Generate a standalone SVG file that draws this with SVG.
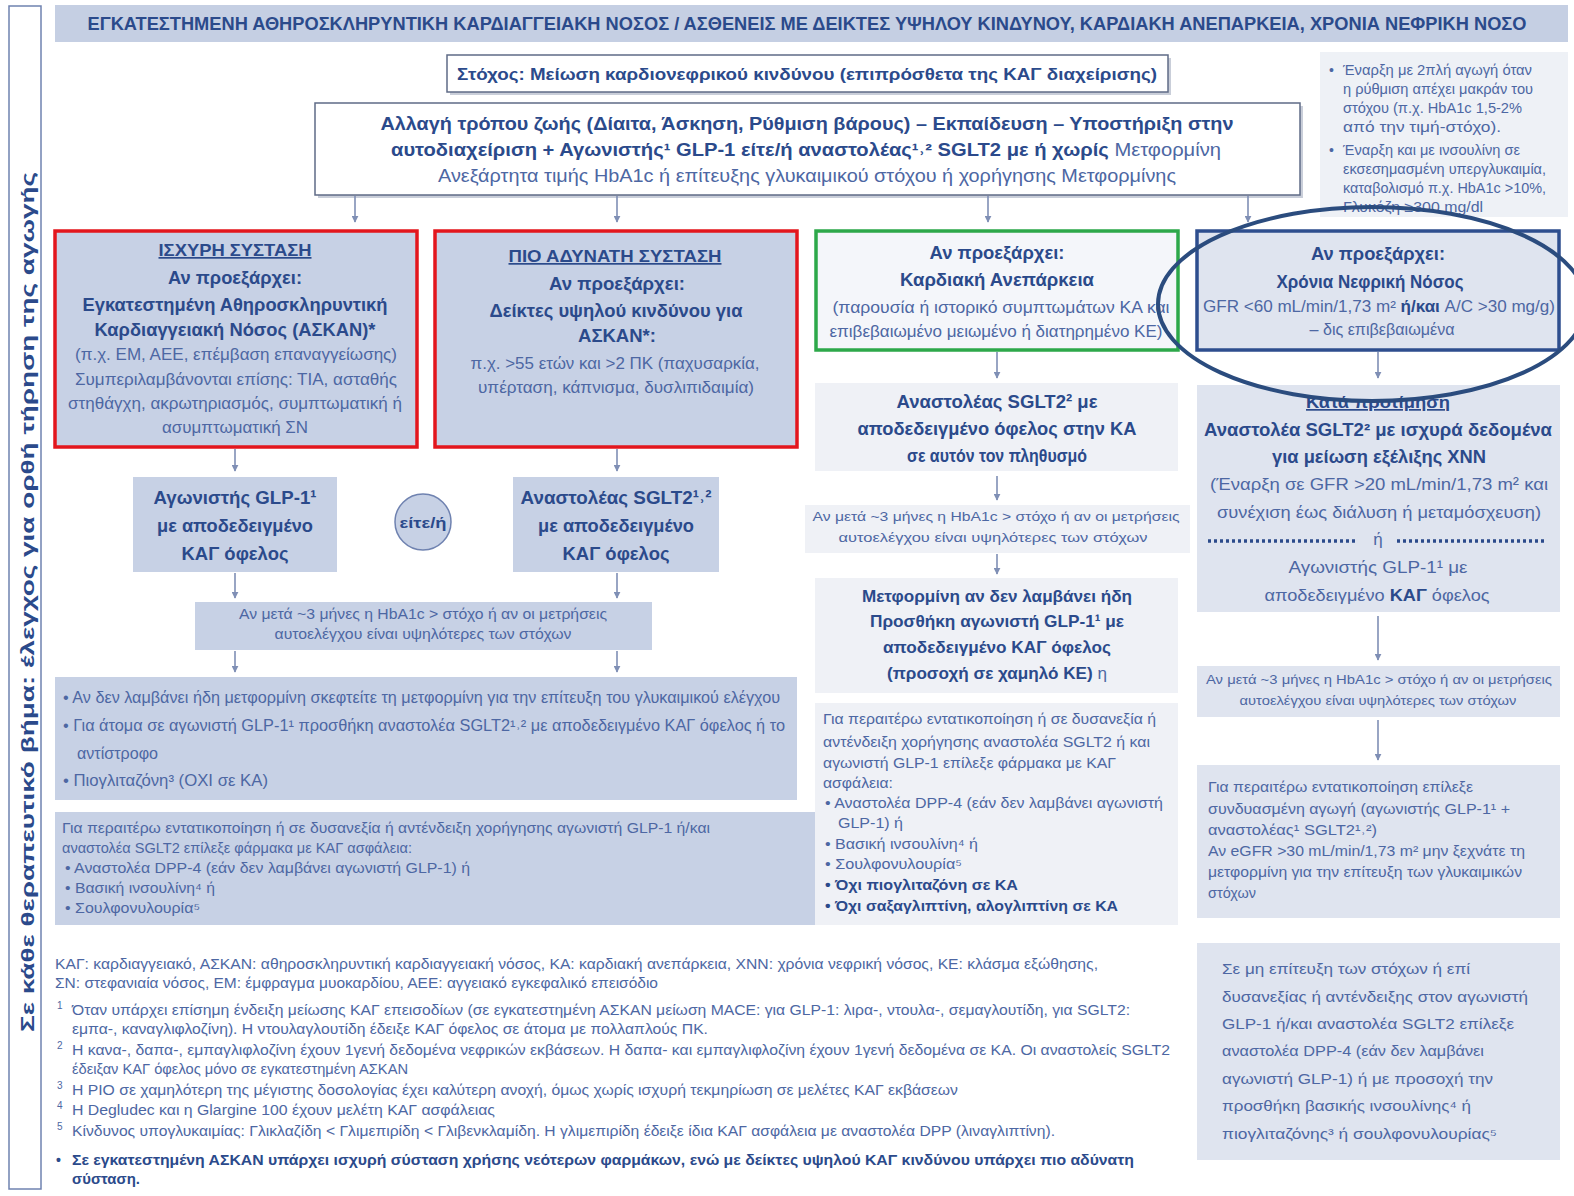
<svg xmlns="http://www.w3.org/2000/svg" width="1574" height="1196" viewBox="0 0 1574 1196">
<defs>
<style>
text{font-family:"Liberation Sans","DejaVu Sans",sans-serif;}
.b{font-weight:bold;fill:#2b4a8b;}
.n{fill:#4d67a3;}
.c{text-anchor:middle;}
.u{text-decoration:underline;}
.box{fill:#c7d1e5;}
.lt{fill:#eff1f6;}
.rb{fill:#dfe4ef;}
.red{fill:#c7d1e5;stroke:#e3161d;stroke-width:3.5;}
.conn line{stroke:#7f8fb5;stroke-width:1.6;marker-end:url(#ah);}
</style>
<marker id="ah" viewBox="0 0 10 10" refX="9" refY="5" markerWidth="7" markerHeight="7" orient="auto" markerUnits="userSpaceOnUse">
<path d="M0,0 L10,5 L0,10 z" fill="#7f8fb5"/>
</marker>
</defs>
<rect width="1574" height="1196" fill="#ffffff"/>

<g id="sidebar">
<rect x="9" y="6" width="32" height="1183" fill="#ffffff" stroke="#6f82b0" stroke-width="1.5"/>
<text class="b" font-size="19" transform="translate(34,1032) rotate(-90)" textLength="860" lengthAdjust="spacingAndGlyphs">Σε κάθε θεραπευτικό βήμα: έλεγχος για ορθή τήρηση της αγωγής</text>
</g>

<g id="title">
<rect x="55" y="5" width="1513" height="37" fill="#c5cfe3"/>
<text class="b c" x="807" y="30" font-size="18" textLength="1439" lengthAdjust="spacingAndGlyphs">ΕΓΚΑΤΕΣΤΗΜΕΝΗ ΑΘΗΡΟΣΚΛΗΡΥΝΤΙΚΗ ΚΑΡΔΙΑΓΓΕΙΑΚΗ ΝΟΣΟΣ / ΑΣΘΕΝΕΙΣ ΜΕ ΔΕΙΚΤΕΣ ΥΨΗΛΟΥ ΚΙΝΔΥΝΟΥ, ΚΑΡΔΙΑΚΗ ΑΝΕΠΑΡΚΕΙΑ, ΧΡΟΝΙΑ ΝΕΦΡΙΚΗ ΝΟΣΟ</text>
</g>

<g id="goal">
<rect x="450" y="58" width="721" height="37" fill="#c9ced9"/>
<rect x="447" y="55" width="721" height="37" fill="#ffffff" stroke="#5f6b86" stroke-width="1.5"/>
<text class="b c" x="807" y="80" font-size="17" textLength="700" lengthAdjust="spacingAndGlyphs">Στόχος: Μείωση καρδιονεφρικού κινδύνου (επιπρόσθετα της ΚΑΓ διαχείρισης)</text>
</g>

<g id="main">
<rect x="318" y="106" width="985" height="92" fill="#c9ced9"/>
<rect x="315" y="103" width="985" height="92" fill="#ffffff" stroke="#5f6b86" stroke-width="1.5"/>
<text class="b c" x="807" y="130" font-size="18" textLength="853" lengthAdjust="spacingAndGlyphs">Αλλαγή τρόπου ζωής (Δίαιτα, Άσκηση, Ρύθμιση βάρους) – Εκπαίδευση – Υποστήριξη στην</text>
<text class="b c" x="806" y="156" font-size="18" textLength="830" lengthAdjust="spacingAndGlyphs">αυτοδιαχείριση  +  Αγωνιστής¹ GLP-1 είτε/ή αναστολέας¹˒² SGLT2 με ή χωρίς <tspan font-weight="normal" fill="#4d67a3">Μετφορμίνη</tspan></text>
<text class="n c" x="807" y="182" font-size="18" textLength="738" lengthAdjust="spacingAndGlyphs">Ανεξάρτητα τιμής HbA1c ή επίτευξης γλυκαιμικού στόχου ή χορήγησης Μετφορμίνης</text>
</g>

<g id="note">
<rect x="1320" y="52" width="248" height="165" fill="#eef1f6"/>
<g class="n" font-size="14">
<text x="1329" y="75">•</text>
<text x="1343" y="75" textLength="189" lengthAdjust="spacingAndGlyphs">Έναρξη με 2πλή αγωγή όταν</text>
<text x="1343" y="94" textLength="190" lengthAdjust="spacingAndGlyphs">η ρύθμιση απέχει μακράν του</text>
<text x="1343" y="113" textLength="179" lengthAdjust="spacingAndGlyphs">στόχου (π.χ. HbA1c 1,5-2%</text>
<text x="1343" y="132" textLength="158" lengthAdjust="spacingAndGlyphs">από την τιμή-στόχο).</text>
<text x="1329" y="155">•</text>
<text x="1343" y="155" textLength="177" lengthAdjust="spacingAndGlyphs">Έναρξη και με ινσουλίνη σε</text>
<text x="1343" y="174" textLength="203" lengthAdjust="spacingAndGlyphs">εκσεσημασμένη υπεργλυκαιμία,</text>
<text x="1343" y="193" textLength="203" lengthAdjust="spacingAndGlyphs">καταβολισμό π.χ. HbA1c &gt;10%,</text>
<text x="1343" y="212" textLength="140" lengthAdjust="spacingAndGlyphs">Γλυκόζη ≥300 mg/dl</text>
</g>
</g>

<g id="boxA">
<rect class="red" x="55" y="231" width="362" height="216"/>
<text class="b c u" x="235" y="256" font-size="17" textLength="153" lengthAdjust="spacingAndGlyphs">ΙΣΧΥΡΗ ΣΥΣΤΑΣΗ</text>
<text class="b c" x="235" y="284" font-size="18" textLength="134" lengthAdjust="spacingAndGlyphs">Αν προεξάρχει:</text>
<text class="b c" x="235" y="311" font-size="18" textLength="305" lengthAdjust="spacingAndGlyphs">Εγκατεστημένη Αθηροσκληρυντική</text>
<text class="b c" x="235" y="336" font-size="18" textLength="281" lengthAdjust="spacingAndGlyphs">Καρδιαγγειακή Νόσος (ΑΣΚΑΝ)*</text>
<text class="n c" x="236" y="360" font-size="16" textLength="322" lengthAdjust="spacingAndGlyphs">(π.χ. ΕΜ, ΑΕΕ, επέμβαση επαναγγείωσης)</text>
<text class="n c" x="236" y="385" font-size="16" textLength="322" lengthAdjust="spacingAndGlyphs">Συμπεριλαμβάνονται επίσης: ΤΙΑ, ασταθής</text>
<text class="n c" x="235" y="409" font-size="16" textLength="334" lengthAdjust="spacingAndGlyphs">στηθάγχη, ακρωτηριασμός, συμπτωματική ή</text>
<text class="n c" x="235" y="433" font-size="16" textLength="146" lengthAdjust="spacingAndGlyphs">ασυμπτωματική ΣΝ</text>
</g>

<g id="boxB">
<rect class="red" x="435" y="231" width="362" height="216"/>
<text class="b c u" x="615" y="262" font-size="17" textLength="213" lengthAdjust="spacingAndGlyphs">ΠΙΟ ΑΔΥΝΑΤΗ ΣΥΣΤΑΣΗ</text>
<text class="b c" x="617" y="290" font-size="18" textLength="136" lengthAdjust="spacingAndGlyphs">Αν προεξάρχει:</text>
<text class="b c" x="616" y="317" font-size="18" textLength="253" lengthAdjust="spacingAndGlyphs">Δείκτες υψηλού κινδύνου για</text>
<text class="b c" x="617" y="342" font-size="18" textLength="78" lengthAdjust="spacingAndGlyphs">ΑΣΚΑΝ*:</text>
<text class="n c" x="615" y="369" font-size="16" textLength="289" lengthAdjust="spacingAndGlyphs">π.χ. &gt;55 ετών και &gt;2 ΠΚ (παχυσαρκία,</text>
<text class="n c" x="616" y="393" font-size="16" textLength="276" lengthAdjust="spacingAndGlyphs">υπέρταση, κάπνισμα, δυσλιπιδαιμία)</text>
</g>

<g id="boxC">
<rect x="816" y="231" width="362" height="119" fill="#f4f6fa" stroke="#2da84a" stroke-width="3.5"/>
<text class="b c" x="997" y="259" font-size="18" textLength="135" lengthAdjust="spacingAndGlyphs">Αν προεξάρχει:</text>
<text class="b c" x="997" y="286" font-size="18" textLength="194" lengthAdjust="spacingAndGlyphs">Καρδιακή Ανεπάρκεια</text>
<text class="n c" x="1001" y="313" font-size="16" textLength="337" lengthAdjust="spacingAndGlyphs">(παρουσία ή ιστορικό συμπτωμάτων ΚΑ και</text>
<text class="n c" x="996" y="337" font-size="16" textLength="333" lengthAdjust="spacingAndGlyphs">επιβεβαιωμένο μειωμένο ή διατηρημένο ΚΕ)</text>
</g>

<g id="boxD">
<rect x="1197" y="231" width="362" height="119" fill="#dfe4ef" stroke="#2e4e8e" stroke-width="3.5"/>
<text class="b c" x="1378" y="260" font-size="18" textLength="134" lengthAdjust="spacingAndGlyphs">Αν προεξάρχει:</text>
<text class="b c" x="1370" y="288" font-size="18" textLength="187" lengthAdjust="spacingAndGlyphs">Χρόνια Νεφρική Νόσος</text>
<text class="n c" x="1379" y="312" font-size="16" textLength="352" lengthAdjust="spacingAndGlyphs">GFR &lt;60 mL/min/1,73 m² <tspan font-weight="bold" fill="#2b4a8b">ή/και</tspan> A/C &gt;30 mg/g)</text>
<text class="n c" x="1382" y="335" font-size="16" textLength="145" lengthAdjust="spacingAndGlyphs">– δις επιβεβαιωμένα</text>
</g>

<g id="boxE">
<rect class="box" x="133" y="477" width="204" height="95"/>
<text class="b c" x="235" y="504" font-size="19" textLength="163" lengthAdjust="spacingAndGlyphs">Αγωνιστής GLP-1¹</text>
<text class="b c" x="235" y="532" font-size="19" textLength="156" lengthAdjust="spacingAndGlyphs">με αποδεδειγμένο</text>
<text class="b c" x="235" y="560" font-size="19" textLength="107" lengthAdjust="spacingAndGlyphs">ΚΑΓ όφελος</text>
</g>

<g id="either">
<circle cx="423" cy="522" r="28" fill="#c7d1e5" stroke="#6f82b0" stroke-width="1.5"/>
<text class="b c" x="423" y="528" font-size="15" textLength="47" lengthAdjust="spacingAndGlyphs">είτε/ή</text>
</g>

<g id="boxF">
<rect class="box" x="513" y="477" width="206" height="95"/>
<text class="b c" x="616" y="504" font-size="19" textLength="191" lengthAdjust="spacingAndGlyphs">Αναστολέας SGLT2¹˒²</text>
<text class="b c" x="616" y="532" font-size="19" textLength="156" lengthAdjust="spacingAndGlyphs">με αποδεδειγμένο</text>
<text class="b c" x="616" y="560" font-size="19" textLength="107" lengthAdjust="spacingAndGlyphs">ΚΑΓ όφελος</text>
</g>

<g id="boxG">
<rect class="box" x="195" y="602" width="457" height="48"/>
<text class="n c" x="423" y="619" font-size="14" textLength="368" lengthAdjust="spacingAndGlyphs">Αν μετά ~3 μήνες η HbA1c &gt; στόχο ή αν οι μετρήσεις</text>
<text class="n c" x="423" y="639" font-size="14" textLength="297" lengthAdjust="spacingAndGlyphs">αυτοελέγχου είναι υψηλότερες των στόχων</text>
</g>

<g id="boxH">
<rect class="box" x="55" y="677" width="742" height="123"/>
<text class="n" x="63" y="703" font-size="16" textLength="717" lengthAdjust="spacingAndGlyphs">• Αν δεν λαμβάνει ήδη μετφορμίνη σκεφτείτε τη μετφορμίνη για την επίτευξη του γλυκαιμικού ελέγχου</text>
<text class="n" x="63" y="731" font-size="16" textLength="722" lengthAdjust="spacingAndGlyphs">• Για άτομα σε αγωνιστή GLP-1¹ προσθήκη αναστολέα SGLT2¹˒² με αποδεδειγμένο ΚΑΓ όφελος ή το</text>
<text class="n" x="77" y="759" font-size="16" textLength="81" lengthAdjust="spacingAndGlyphs">αντίστροφο</text>
<text class="n" x="63" y="786" font-size="16" textLength="205" lengthAdjust="spacingAndGlyphs">• Πιογλιταζόνη³ (ΟΧΙ σε ΚΑ)</text>
</g>

<g id="boxI">
<rect class="box" x="55" y="812" width="765" height="113"/>
<text class="n" x="62" y="833" font-size="14" textLength="648" lengthAdjust="spacingAndGlyphs">Για περαιτέρω εντατικοποίηση ή σε δυσανεξία ή αντένδειξη χορήγησης αγωνιστή GLP-1 ή/και</text>
<text class="n" x="62" y="853" font-size="14" textLength="350" lengthAdjust="spacingAndGlyphs">αναστολέα SGLT2 επίλεξε φάρμακα με ΚΑΓ ασφάλεια:</text>
<text class="n" x="65" y="873" font-size="14" textLength="405" lengthAdjust="spacingAndGlyphs">• Αναστολέα DPP-4 (εάν δεν λαμβάνει αγωνιστή GLP-1) ή</text>
<text class="n" x="65" y="893" font-size="14" textLength="150" lengthAdjust="spacingAndGlyphs">• Βασική ινσουλίνη⁴ ή</text>
<text class="n" x="65" y="913" font-size="14" textLength="135" lengthAdjust="spacingAndGlyphs">• Σουλφονυλουρία⁵</text>
</g>

<g id="boxJ">
<rect class="lt" x="815" y="383" width="363" height="88"/>
<text class="b c" x="997" y="408" font-size="19" textLength="201" lengthAdjust="spacingAndGlyphs">Αναστολέας SGLT2² με</text>
<text class="b c" x="997" y="435" font-size="19" textLength="279" lengthAdjust="spacingAndGlyphs">αποδεδειγμένο όφελος στην ΚΑ</text>
<text class="b c" x="997" y="462" font-size="19" textLength="180" lengthAdjust="spacingAndGlyphs">σε αυτόν τον πληθυσμό</text>
</g>

<g id="boxK">
<rect class="lt" x="805" y="505" width="385" height="48"/>
<text class="n c" x="996" y="521" font-size="13.5" textLength="367" lengthAdjust="spacingAndGlyphs">Αν μετά ~3 μήνες η HbA1c &gt; στόχο ή αν οι μετρήσεις</text>
<text class="n c" x="993" y="542" font-size="13.5" textLength="309" lengthAdjust="spacingAndGlyphs">αυτοελέγχου είναι υψηλότερες των στόχων</text>
</g>

<g id="boxL">
<rect class="lt" x="815" y="578" width="363" height="115"/>
<text class="b c" x="997" y="602" font-size="17" textLength="270" lengthAdjust="spacingAndGlyphs">Μετφορμίνη αν δεν λαμβάνει ήδη</text>
<text class="b c" x="997" y="627" font-size="17" textLength="254" lengthAdjust="spacingAndGlyphs">Προσθήκη αγωνιστή GLP-1¹ με</text>
<text class="b c" x="997" y="653" font-size="17" textLength="228" lengthAdjust="spacingAndGlyphs">αποδεδειγμένο ΚΑΓ όφελος</text>
<text class="b c" x="997" y="679" font-size="17" textLength="220" lengthAdjust="spacingAndGlyphs">(προσοχή σε χαμηλό ΚΕ) <tspan font-weight="normal" fill="#4d67a3">η</tspan></text>
</g>

<g id="boxM">
<rect class="lt" x="815" y="703" width="363" height="222"/>
<text class="n" x="823" y="724" font-size="14" textLength="333" lengthAdjust="spacingAndGlyphs">Για περαιτέρω εντατικοποίηση ή σε δυσανεξία ή</text>
<text class="n" x="823" y="747" font-size="14" textLength="327" lengthAdjust="spacingAndGlyphs">αντένδειξη χορήγησης αναστολέα SGLT2 ή και</text>
<text class="n" x="823" y="768" font-size="14" textLength="293" lengthAdjust="spacingAndGlyphs">αγωνιστή GLP-1 επίλεξε φάρμακα με ΚΑΓ</text>
<text class="n" x="823" y="788" font-size="14" textLength="70" lengthAdjust="spacingAndGlyphs">ασφάλεια:</text>
<text class="n" x="825" y="808" font-size="14" textLength="338" lengthAdjust="spacingAndGlyphs">• Αναστολέα DPP-4 (εάν δεν λαμβάνει αγωνιστή</text>
<text class="n" x="838" y="828" font-size="14" textLength="65" lengthAdjust="spacingAndGlyphs">GLP-1) ή</text>
<text class="n" x="825" y="849" font-size="14" textLength="153" lengthAdjust="spacingAndGlyphs">• Βασική ινσουλίνη⁴ ή</text>
<text class="n" x="825" y="869" font-size="14" textLength="137" lengthAdjust="spacingAndGlyphs">• Σουλφονυλουρία⁵</text>
<text class="b" x="825" y="890" font-size="14" textLength="193" lengthAdjust="spacingAndGlyphs">• Όχι πιογλιταζόνη σε ΚΑ</text>
<text class="b" x="825" y="911" font-size="14" textLength="293" lengthAdjust="spacingAndGlyphs">• Όχι σαξαγλιπτίνη, αλογλιπτίνη σε ΚΑ</text>
</g>

<g id="boxN">
<rect class="rb" x="1197" y="385" width="363" height="227"/>
<text class="b c u" x="1378" y="408" font-size="17" textLength="144" lengthAdjust="spacingAndGlyphs">Κατά προτίμηση</text>
<text class="b c" x="1378" y="436" font-size="18" textLength="348" lengthAdjust="spacingAndGlyphs">Αναστολέα SGLT2² με ισχυρά δεδομένα</text>
<text class="b c" x="1379" y="463" font-size="18" textLength="214" lengthAdjust="spacingAndGlyphs">για μείωση εξέλιξης ΧΝΝ</text>
<text class="n c" x="1379" y="490" font-size="17" textLength="338" lengthAdjust="spacingAndGlyphs">(Έναρξη σε GFR &gt;20 mL/min/1,73 m² και</text>
<text class="n c" x="1379" y="518" font-size="17" textLength="324" lengthAdjust="spacingAndGlyphs">συνέχιση έως διάλυση ή μεταμόσχευση)</text>
<line x1="1208" y1="541" x2="1358" y2="541" stroke="#2b4a8b" stroke-width="3.5" stroke-dasharray="3,3"/>
<line x1="1397" y1="541" x2="1547" y2="541" stroke="#2b4a8b" stroke-width="3.5" stroke-dasharray="3,3"/>
<text class="n c" x="1378" y="545" font-size="17">ή</text>
<text class="n c" x="1378" y="573" font-size="17" textLength="179" lengthAdjust="spacingAndGlyphs">Αγωνιστής GLP-1¹ με</text>
<text class="n c" x="1377" y="601" font-size="17" textLength="225" lengthAdjust="spacingAndGlyphs">αποδεδειγμένο <tspan font-weight="bold" fill="#2b4a8b">ΚΑΓ</tspan> όφελος</text>
</g>

<g id="boxO">
<rect class="rb" x="1197" y="666" width="363" height="51"/>
<text class="n c" x="1379" y="684" font-size="13.5" textLength="346" lengthAdjust="spacingAndGlyphs">Αν μετά ~3 μήνες η HbA1c &gt; στόχο ή αν οι μετρήσεις</text>
<text class="n c" x="1378" y="705" font-size="13.5" textLength="277" lengthAdjust="spacingAndGlyphs">αυτοελέγχου είναι υψηλότερες των στόχων</text>
</g>

<g id="boxP">
<rect class="rb" x="1197" y="765" width="363" height="153"/>
<text class="n" x="1208" y="792" font-size="14" textLength="265" lengthAdjust="spacingAndGlyphs">Για περαιτέρω εντατικοποίηση επίλεξε</text>
<text class="n" x="1208" y="814" font-size="14" textLength="302" lengthAdjust="spacingAndGlyphs">συνδυασμένη αγωγή (αγωνιστής GLP-1¹ +</text>
<text class="n" x="1208" y="835" font-size="14" textLength="169" lengthAdjust="spacingAndGlyphs">αναστολέας¹ SGLT2¹˒²)</text>
<text class="n" x="1208" y="856" font-size="14" textLength="317" lengthAdjust="spacingAndGlyphs">Αν eGFR &gt;30 mL/min/1,73 m² μην ξεχνάτε τη</text>
<text class="n" x="1208" y="877" font-size="14" textLength="314" lengthAdjust="spacingAndGlyphs">μετφορμίνη για την επίτευξη των γλυκαιμικών</text>
<text class="n" x="1208" y="898" font-size="14" textLength="48" lengthAdjust="spacingAndGlyphs">στόχων</text>
</g>

<g id="boxQ">
<rect class="rb" x="1197" y="943" width="363" height="217"/>
<text class="n" x="1222" y="974" font-size="15" textLength="248" lengthAdjust="spacingAndGlyphs">Σε μη επίτευξη των στόχων ή επί</text>
<text class="n" x="1222" y="1002" font-size="15" textLength="306" lengthAdjust="spacingAndGlyphs">δυσανεξίας ή αντένδειξης στον αγωνιστή</text>
<text class="n" x="1222" y="1029" font-size="15" textLength="292" lengthAdjust="spacingAndGlyphs">GLP-1 ή/και αναστολέα SGLT2 επίλεξε</text>
<text class="n" x="1222" y="1056" font-size="15" textLength="262" lengthAdjust="spacingAndGlyphs">αναστολέα DPP-4 (εάν δεν λαμβάνει</text>
<text class="n" x="1222" y="1084" font-size="15" textLength="271" lengthAdjust="spacingAndGlyphs">αγωνιστή GLP-1) ή με προσοχή την</text>
<text class="n" x="1222" y="1111" font-size="15" textLength="249" lengthAdjust="spacingAndGlyphs">προσθήκη βασικής ινσουλίνης⁴ ή</text>
<text class="n" x="1222" y="1139" font-size="15" textLength="275" lengthAdjust="spacingAndGlyphs">πιογλιταζόνης³ ή σουλφονυλουρίας⁵</text>
</g>

<g id="footnotes" class="n" font-size="14">
<text x="55" y="969" textLength="1043" lengthAdjust="spacingAndGlyphs">ΚΑΓ: καρδιαγγειακό, ΑΣΚΑΝ: αθηροσκληρυντική καρδιαγγειακή νόσος, ΚΑ: καρδιακή ανεπάρκεια, ΧΝΝ: χρόνια νεφρική νόσος, ΚΕ: κλάσμα εξώθησης,</text>
<text x="55" y="988" textLength="603" lengthAdjust="spacingAndGlyphs">ΣΝ: στεφανιαία νόσος, ΕΜ: έμφραγμα μυοκαρδίου, ΑΕΕ: αγγειακό εγκεφαλικό επεισόδιο</text>
<text x="57" y="1009" font-size="10">1</text>
<text x="72" y="1015" textLength="1058" lengthAdjust="spacingAndGlyphs">Όταν υπάρχει επίσημη ένδειξη μείωσης ΚΑΓ επεισοδίων (σε εγκατεστημένη ΑΣΚΑΝ μείωση MACE: για GLP-1: λιρα-, ντουλα-, σεμαγλουτίδη, για SGLT2:</text>
<text x="72" y="1034" textLength="636" lengthAdjust="spacingAndGlyphs">εμπα-, καναγλιφλοζίνη). Η ντουλαγλουτίδη έδειξε ΚΑΓ όφελος σε άτομα με πολλαπλούς ΠΚ.</text>
<text x="57" y="1049" font-size="10">2</text>
<text x="72" y="1055" textLength="1098" lengthAdjust="spacingAndGlyphs">Η κανα-, δαπα-, εμπαγλιφλοζίνη έχουν 1γενή δεδομένα νεφρικών εκβάσεων. Η δαπα- και εμπαγλιφλοζίνη έχουν 1γενή δεδομένα σε ΚΑ. Οι αναστολείς SGLT2</text>
<text x="72" y="1074" textLength="336" lengthAdjust="spacingAndGlyphs">έδειξαν ΚΑΓ όφελος μόνο σε εγκατεστημένη ΑΣΚΑΝ</text>
<text x="57" y="1089" font-size="10">3</text>
<text x="72" y="1095" textLength="886" lengthAdjust="spacingAndGlyphs">Η PIO σε χαμηλότερη της μέγιστης δοσολογίας έχει καλύτερη ανοχή, όμως χωρίς ισχυρή τεκμηρίωση σε μελέτες ΚΑΓ εκβάσεων</text>
<text x="57" y="1109" font-size="10">4</text>
<text x="72" y="1115" textLength="423" lengthAdjust="spacingAndGlyphs">Η Degludec και η Glargine 100 έχουν μελέτη ΚΑΓ ασφάλειας</text>
<text x="57" y="1130" font-size="10">5</text>
<text x="72" y="1136" textLength="983" lengthAdjust="spacingAndGlyphs">Κίνδυνος υπογλυκαιμίας: Γλικλαζίδη &lt; Γλιμεπιρίδη &lt; Γλιβενκλαμίδη. Η γλιμεπιρίδη έδειξε ίδια ΚΑΓ ασφάλεια με αναστολέα DPP (λιναγλιπτίνη).</text>
<text class="b" x="56" y="1165">•</text>
<text class="b" x="72" y="1165" textLength="1062" lengthAdjust="spacingAndGlyphs">Σε εγκατεστημένη ΑΣΚΑΝ υπάρχει ισχυρή σύσταση χρήσης νεότερων φαρμάκων, ενώ με δείκτες υψηλού ΚΑΓ κινδύνου υπάρχει πιο αδύνατη</text>
<text class="b" x="72" y="1184" textLength="68" lengthAdjust="spacingAndGlyphs">σύσταση.</text>
</g>

<g id="connectors" class="conn">
<line x1="355" y1="196" x2="355" y2="222"/>
<line x1="617" y1="196" x2="617" y2="222"/>
<line x1="988" y1="196" x2="988" y2="222"/>
<line x1="1248" y1="196" x2="1248" y2="222"/>
<line x1="235" y1="449" x2="235" y2="471"/>
<line x1="617" y1="449" x2="617" y2="471"/>
<line x1="997" y1="352" x2="997" y2="378"/>
<line x1="1378" y1="352" x2="1378" y2="378"/>
<line x1="235" y1="573" x2="235" y2="598"/>
<line x1="617" y1="573" x2="617" y2="598"/>
<line x1="235" y1="651" x2="235" y2="672"/>
<line x1="617" y1="651" x2="617" y2="672"/>
<line x1="997" y1="476" x2="997" y2="500"/>
<line x1="997" y1="554" x2="997" y2="574"/>
<line x1="1378" y1="616" x2="1378" y2="660"/>
<line x1="1378" y1="720" x2="1378" y2="760"/>
</g>

<g id="highlight">
<ellipse cx="1372" cy="304" rx="214" ry="97" fill="none" stroke="#2b4c7e" stroke-width="4"/>
</g>
</svg>
